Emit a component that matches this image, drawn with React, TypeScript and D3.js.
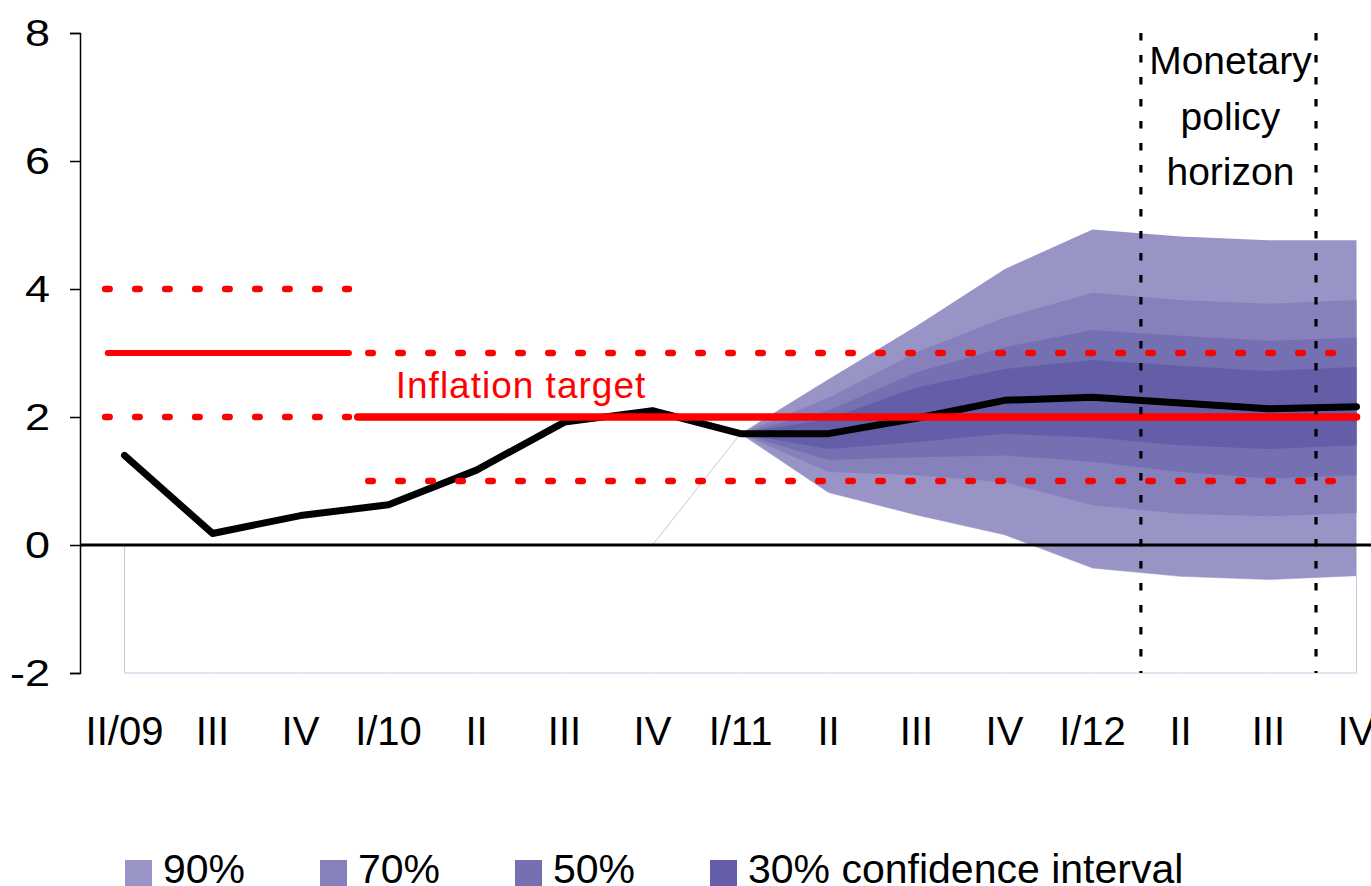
import React, { useRef, useEffect } from "react";
import * as d3 from "d3";

// quarters on the x axis
const quarters = ["II/09", "III", "IV", "I/10", "II", "III", "IV", "I/11", "II", "III", "IV", "I/12", "II", "III", "IV"];
// inflation: actual + central projection
const inflation = [1.4, 0.18, 0.46, 0.63, 1.17, 1.92, 2.1, 1.74, 1.74, 1.98, 2.26, 2.31, 2.22, 2.13, 2.16];

// fan starts at I/11
const fanStart = 7;
const lower90 = [1.74, 0.82, 0.47, 0.16, -0.36, -0.49, -0.54, -0.48];
const lower70 = [1.74, 1.14, 1.09, 0.98, 0.62, 0.49, 0.45, 0.5];
const lower50 = [1.74, 1.33, 1.37, 1.4, 1.3, 1.14, 1.04, 1.09];
const lower30 = [1.74, 1.5, 1.61, 1.74, 1.68, 1.56, 1.5, 1.56];
const upper30 = [1.74, 1.97, 2.46, 2.75, 2.89, 2.8, 2.72, 2.78];
const upper50 = [1.74, 2.1, 2.7, 3.09, 3.36, 3.27, 3.19, 3.24];
const upper70 = [1.74, 2.3, 3.01, 3.55, 3.94, 3.83, 3.77, 3.83];
const upper90 = [1.74, 2.59, 3.42, 4.31, 4.93, 4.82, 4.76, 4.76];

const bandNames = ["90%", "70%", "50%", "30% confidence interval"];
const bandColors = ["#9994c6", "#8781bb", "#7570b1", "#635ea7"];

const yTicks = [-2, 0, 2, 4, 6, 8];

// inflation target: [from index, to index, target], tolerance band +-1
const targetOld = [-0.22, 2.55, 3];
const targetNew = [2.65, 14, 2];
const tolerance = 1;

// monetary policy horizon (in quarter index units)
const horizon = [11.55, 13.54];
const horizonLines = ["Monetary", "policy", "horizon"];

const W = 1371;
const H = 886;
const FONT = "'Liberation Sans', Arial, sans-serif";

const App = () => {
  const ref = useRef(null);

  useEffect(() => {
    const svg = d3.select(ref.current);
    svg.selectAll("*").remove();

    const x = d3.scaleLinear().domain([0, quarters.length - 1]).range([124.5, 1356.5]);
    const y = d3.scaleLinear().domain([-2, 8]).range([673, 33]);
    const axisX = 80;

    const fanIdx = d3.range(lower90.length).map((i) => i + fanStart);

    // invisible base series outline (Excel leftover)
    const base = quarters.map((_, i) => (i < fanStart ? 0 : lower90[i - fanStart]));
    svg
      .append("path")
      .attr(
        "d",
        d3
          .area()
          .x((d, i) => x(i))
          .y0(y(-2))
          .y1((d) => y(d))(base)
      )
      .attr("fill", "none")
      .attr("stroke", "#c9c7e2")
      .attr("stroke-width", 1);

    // fan bands
    const bands = [
      [lower90, upper90],
      [lower70, upper70],
      [lower50, upper50],
      [lower30, upper30],
    ];
    const fanArea = d3
      .area()
      .x((d) => x(d.i))
      .y0((d) => y(d.lo))
      .y1((d) => y(d.hi));
    bands.forEach(([lo, hi], b) => {
      const pts = fanIdx.map((i, k) => ({ i, lo: lo[k], hi: hi[k] }));
      svg.append("path").attr("d", fanArea(pts)).attr("fill", bandColors[b]);
    });

    // zero line
    svg
      .append("line")
      .attr("x1", axisX)
      .attr("x2", W)
      .attr("y1", y(0))
      .attr("y2", y(0))
      .attr("stroke", "#000")
      .attr("stroke-width", 3);

    // y axis
    const yAxis = svg
      .append("g")
      .attr("transform", `translate(${axisX},0)`)
      .call(
        d3
          .axisLeft(y)
          .tickValues(yTicks)
          .tickFormat((d) => String(d))
          .tickSize(10)
      );
    yAxis.select(".domain").attr("stroke-width", 1.5);
    yAxis.selectAll(".tick line").attr("stroke-width", 1.5);
    // labels look a bit stretched in the original
    const sx = 1.25;
    yAxis
      .selectAll("text")
      .attr("font-family", FONT)
      .attr("font-size", 36)
      .attr("fill", "#000")
      .attr("x", -30 / sx)
      .attr("dy", "0.36em")
      .attr("transform", `scale(${sx},1)`);

    // inflation line
    svg
      .append("path")
      .attr(
        "d",
        d3
          .line()
          .x((d, i) => x(i))
          .y((d) => y(d))(inflation)
      )
      .attr("fill", "none")
      .attr("stroke", "#000")
      .attr("stroke-width", 7)
      .attr("stroke-linejoin", "round")
      .attr("stroke-linecap", "round");

    // inflation target
    const red = "#ff0000";
    const dotted = (x1, x2, v) =>
      svg
        .append("line")
        .attr("x1", x(x1))
        .attr("x2", x(x2))
        .attr("y1", y(v))
        .attr("y2", y(v))
        .attr("stroke", red)
        .attr("stroke-width", 6.5)
        .attr("stroke-linecap", "round")
        .attr("stroke-dasharray", "4.5 25.5");
    const solid = (x1, x2, v, w) =>
      svg
        .append("line")
        .attr("x1", x(x1))
        .attr("x2", x(x2))
        .attr("y1", y(v))
        .attr("y2", y(v))
        .attr("stroke", red)
        .attr("stroke-width", w)
        .attr("stroke-linecap", "round");

    solid(targetOld[0] + 0.03, targetOld[1], targetOld[2], 6);
    dotted(targetOld[0], targetOld[1], targetOld[2] + tolerance);
    dotted(targetOld[0], targetOld[1], targetOld[2] - tolerance);
    solid(targetNew[0], targetNew[1], targetNew[2], 7.5);
    dotted(targetNew[0] + 0.12, targetNew[1], targetNew[2] + tolerance);
    dotted(targetNew[0] + 0.12, targetNew[1], targetNew[2] - tolerance);

    svg
      .append("text")
      .attr("x", 521)
      .attr("y", 398)
      .attr("text-anchor", "middle")
      .attr("font-family", FONT)
      .attr("font-size", 37)
      .attr("letter-spacing", 1)
      .attr("fill", red)
      .text("Inflation target");

    // monetary policy horizon
    horizon.forEach((h) =>
      svg
        .append("line")
        .attr("x1", x(h))
        .attr("x2", x(h))
        .attr("y1", y(8))
        .attr("y2", y(-2))
        .attr("stroke", "#000")
        .attr("stroke-width", 3.2)
        .attr("stroke-dasharray", "7.5 14.5")
    );
    const hx = (x(horizon[0]) + x(horizon[1])) / 2 + 2;
    svg
      .append("g")
      .selectAll("text")
      .data(horizonLines)
      .join("text")
      .attr("x", hx)
      .attr("y", (d, i) => 74 + i * 55.5)
      .attr("text-anchor", "middle")
      .attr("font-family", FONT)
      .attr("font-size", 39)
      .attr("fill", "#000")
      .text((d) => d);

    // x labels
    svg
      .append("g")
      .selectAll("text")
      .data(quarters)
      .join("text")
      .attr("x", (d, i) => x(i))
      .attr("y", 745)
      .attr("text-anchor", "middle")
      .attr("font-family", FONT)
      .attr("font-size", 40)
      .attr("fill", "#000")
      .text((d) => d);

    // legend
    const lg = svg
      .append("g")
      .selectAll("g")
      .data(bandNames)
      .join("g")
      .attr("transform", (d, i) => `translate(${125 + i * 195},0)`);
    lg.append("rect")
      .attr("x", 0)
      .attr("y", 860)
      .attr("width", 27)
      .attr("height", 27)
      .attr("fill", (d, i) => bandColors[i]);
    lg.append("text")
      .attr("x", 38)
      .attr("y", 883)
      .attr("font-family", FONT)
      .attr("font-size", 41)
      .attr("fill", "#000")
      .text((d) => d);
  }, []);

  return (
    <svg
      ref={ref}
      width={W}
      height={H}
      style={{ position: "absolute", left: 0, top: 0, background: "#fff" }}
    />
  );
};

export default App;
